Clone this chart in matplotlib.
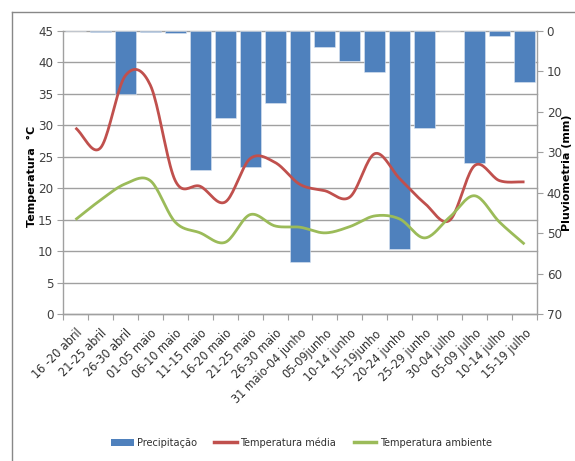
import numpy as np
import matplotlib
matplotlib.use("Agg")
import matplotlib.pyplot as plt
from matplotlib.lines import Line2D
from matplotlib.patches import Patch
from matplotlib.transforms import blended_transform_factory

categories = ["16 -20 abril", "21-25 abril", "26-30 abril", "01-05 maio", "06-10 maio",
              "11-15 maio", "16-20 maio", "21-25 maio", "26-30 maio", "31 maio-04 junho",
              "05-09junho", "10-14 junho", "15-19junho", "20-24 junho", "25-29 junho",
              "30-04 julho", "05-09 julho", "10-14 julho", "15-19 julho"]
precip = [0.0, 0.2, 15.6, 0.2, 0.5, 34.4, 21.4, 33.6, 17.9, 57.1,
          4.0, 7.4, 10.1, 53.8, 23.9, 0.0, 32.7, 1.2, 12.7]
temp_media = [29.6, 26.4, 37.9, 36.4, 21.2, 20.3, 17.8, 24.7, 24.1, 20.6,
              19.6, 18.6, 25.5, 21.5, 17.6, 14.9, 23.6, 21.2, 21.0]
temp_amb = [15.0, 18.1, 20.7, 21.2, 14.6, 12.9, 11.4, 15.8, 14.0, 13.8,
            12.9, 13.9, 15.6, 15.1, 12.1, 15.4, 18.8, 14.6, 11.1]
temp_ticks = list(range(0, 50, 5))
mm_ticks = list(range(0, 80, 10))

plt.rcParams['font.family'] = ['DejaVu Sans']
plt.rcParams['font.stretch'] = 'condensed'

W, H = 575, 461
fig = plt.figure(figsize=(W / 100, H / 100), dpi=100)
L, R, T, B = 63, 537, 31, 314
ax2 = fig.add_axes([L / W, 1 - B / H, (R - L) / W, (B - T) / H])
ax = ax2.twinx()
ax.yaxis.tick_left()
ax2.yaxis.tick_right()
ax.set_zorder(3)
ax.patch.set_visible(False)

n = len(categories)
x = np.arange(n)

ax.set_ylim(0, 45)
ax2.set_ylim(70, 0)
ax2.set_xlim(-0.5, n - 0.5)

# grid lines from temperature axis (drawn under bars)
gt = blended_transform_factory(ax2.transAxes, ax.transData)
for t in temp_ticks:
    ax2.plot([0, 1], [t, t], transform=gt, color="#a0a0a0", lw=1.0, zorder=0.5, clip_on=False)

ax2.bar(x, precip, width=0.84, color="#4f81bd", edgecolor="#dde6f2", linewidth=0.4, zorder=2)


def smooth(xs, ys, k=20):
    xs = np.asarray(xs, float)
    ys = np.asarray(ys, float)
    px = np.concatenate([[2 * xs[0] - xs[1]], xs, [2 * xs[-1] - xs[-2]]])
    py = np.concatenate([[ys[0]], ys, [ys[-1]]])
    outx, outy = [], []
    for i in range(1, len(xs)):
        p0x, p1x, p2x, p3x = px[i - 1], px[i], px[i + 1], px[i + 2]
        p0y, p1y, p2y, p3y = py[i - 1], py[i], py[i + 1], py[i + 2]
        if i == 1:
            p0y = p1y - (p2y - p1y)
        if i == len(xs) - 1:
            p3y = p2y + (p2y - p1y)
        c1x = p1x + (p2x - p0x) / 6
        c1y = p1y + (p2y - p0y) / 6
        c2x = p2x - (p3x - p1x) / 6
        c2y = p2y - (p3y - p1y) / 6
        s = np.linspace(0, 1, k, endpoint=(i == len(xs) - 1))
        bx = (1 - s) ** 3 * p1x + 3 * (1 - s) ** 2 * s * c1x + 3 * (1 - s) * s ** 2 * c2x + s ** 3 * p2x
        by = (1 - s) ** 3 * p1y + 3 * (1 - s) ** 2 * s * c1y + 3 * (1 - s) * s ** 2 * c2y + s ** 3 * p2y
        outx.extend(bx)
        outy.extend(by)
    return np.array(outx), np.array(outy)


sx, sy = smooth(x, temp_media)
ax.plot(sx, sy, color="#c0504d", lw=2.0, solid_capstyle="butt", zorder=4)
sx, sy = smooth(x, temp_amb)
ax.plot(sx, sy, color="#9bbb59", lw=2.0, solid_capstyle="butt", zorder=4)
ax.set_xlim(-0.5, n - 0.5)

ax.set_yticks(temp_ticks)
ax2.set_yticks(mm_ticks)
for a in (ax, ax2):
    for s in a.spines.values():
        s.set_visible(False)
for k in ('left', 'right', 'bottom'):
    ax2.spines[k].set_visible(True)
    ax2.spines[k].set_color("#a0a0a0")
    ax2.spines[k].set_linewidth(1.0)

ax.tick_params(axis='y', length=4, color="#a0a0a0", labelsize=9.5, labelcolor="#404040", pad=3)
ax2.tick_params(axis='y', length=4, color="#a0a0a0", labelsize=9.5, labelcolor="#404040", pad=3)
ax.tick_params(axis='x', bottom=False, labelbottom=False)
ax2.set_xticks(np.arange(n + 1) - 0.5, minor=False)
ax2.set_xticklabels([])
ax2.tick_params(axis='x', length=4, color="#a0a0a0")
ax2.set_xticks(x, minor=True)
ax2.set_xticklabels(categories, minor=True, rotation=45, ha='right', va='top',
                    rotation_mode='anchor', fontsize=9, color="#303030")
ax2.tick_params(axis='x', which='minor', length=0, pad=9)

fig.text(32 / W, 1 - 176 / H, "Temperatura  °C", rotation=90, ha='center', va='center',
         fontsize=8, fontweight='bold', fontstretch='normal')
fig.text(567 / W, 1 - 173 / H, "Pluviometria (mm)", rotation=90, ha='center', va='center',
         fontsize=8, fontweight='bold', fontstretch='normal')

handles = [Patch(facecolor="#4f81bd", edgecolor="none"),
           Line2D([], [], color="#c0504d", lw=2.5),
           Line2D([], [], color="#9bbb59", lw=2.5)]
fig.legend(handles, ["Precipitação", "Temperatura média", "Temperatura ambiente"],
           loc='center', bbox_to_anchor=(0.524, 1 - 443 / H), ncol=3, frameon=False,
           fontsize=7.8, handlelength=2.1, handleheight=0.75, columnspacing=1.6, handletextpad=0.3,
           labelcolor="#303030")

bc = "#888888"
fig.add_artist(Line2D([12 / W, 12 / W], [0, 1 - 12.5 / H], color=bc, lw=1.0))
fig.add_artist(Line2D([12 / W, 574 / W], [1 - 12.5 / H, 1 - 12.5 / H], color=bc, lw=1.0))

fig.savefig("out.png", dpi=100)
